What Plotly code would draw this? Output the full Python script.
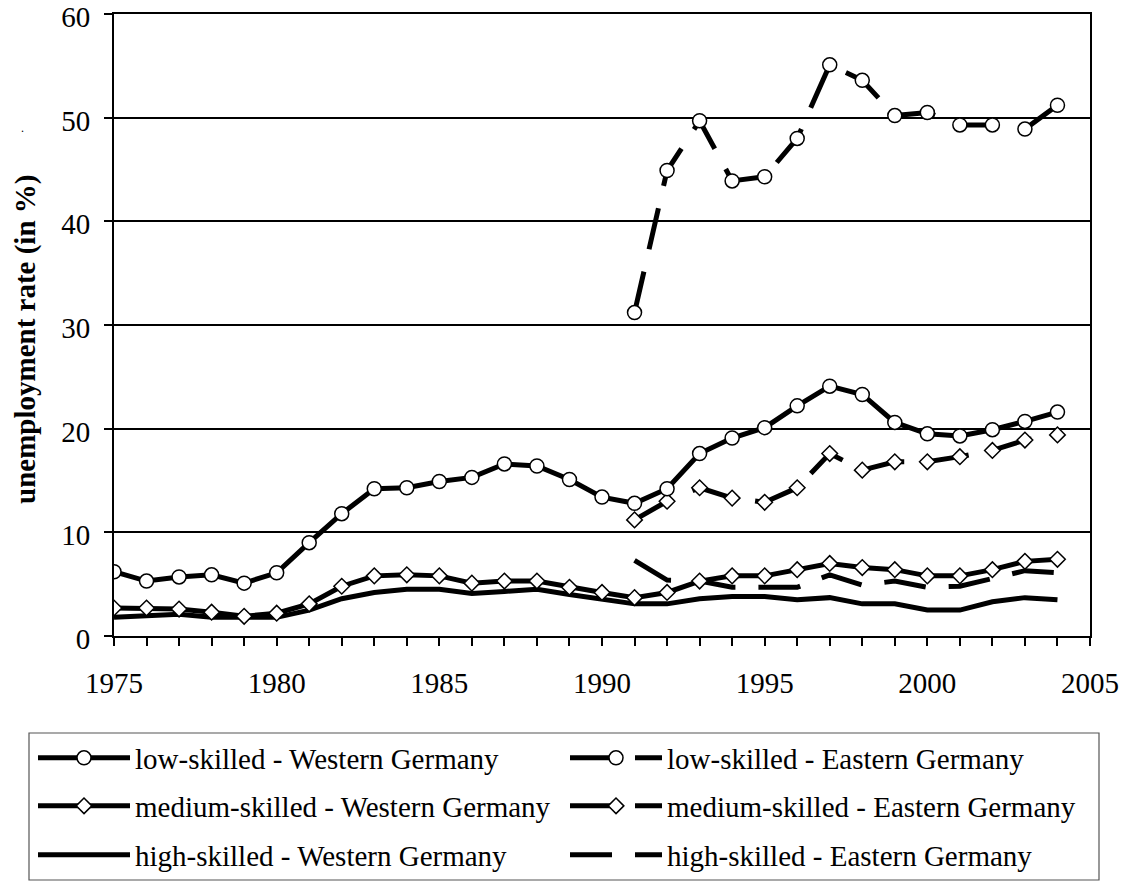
import plotly.graph_objects as go

years_w = list(range(1975, 2005))
years_e = list(range(1991, 2005))

low_w = [6.2, 5.3, 5.7, 5.9, 5.1, 6.1, 9.0, 11.8, 14.2, 14.3, 14.9, 15.3, 16.6, 16.4, 15.1,
         13.4, 12.8, 14.2, 17.6, 19.1, 20.1, 22.2, 24.1, 23.3, 20.6, 19.5, 19.3, 19.9, 20.7, 21.6]
med_w = [2.7, 2.7, 2.6, 2.3, 1.9, 2.2, 3.1, 4.8, 5.8, 5.9, 5.8, 5.1, 5.3, 5.3, 4.7,
         4.2, 3.7, 4.2, 5.3, 5.8, 5.8, 6.4, 7.0, 6.6, 6.4, 5.8, 5.8, 6.4, 7.2, 7.4]
high_w = [1.8, 1.9, 2.1, 1.8, 1.8, 1.8, 2.5, 3.6, 4.2, 4.5, 4.5, 4.1, 4.3, 4.5, 4.0,
          3.5, 3.1, 3.1, 3.6, 3.8, 3.8, 3.5, 3.7, 3.1, 3.1, 2.5, 2.5, 3.3, 3.7, 3.5]

low_e = [31.2, 44.9, 49.7, 43.9, 44.3, 48.0, 55.1, 53.6, 50.2, 50.5, 49.3, 49.3, 48.9, 51.2]
med_e = [11.2, 13.0, 14.3, 13.3, 12.9, 14.3, 17.6, 16.0, 16.8, 16.8, 17.3, 17.9, 18.9, 19.4]
high_e = [7.3, 5.4, 5.3, 4.7, 4.7, 4.7, 5.9, 4.9, 5.3, 4.7, 4.8, 5.6, 6.3, 6.1]

names = ["low-skilled - Western Germany", "low-skilled - Eastern Germany",
         "medium-skilled - Western Germany", "medium-skilled - Eastern Germany",
         "high-skilled - Western Germany", "high-skilled - Eastern Germany"]

tick_years = list(range(1975, 2006))
tick_text = [str(y) if y % 5 == 0 else "" for y in tick_years]

FONT = "Liberation Serif"
DASH = "42px,23px"
LW = 5

fig = go.Figure()

def add(x, y, name, legend, dash, symbol):
    mk = dict(symbol=symbol, size=14 if symbol == "circle" else 12, color="white",
              line=dict(color="black", width=1.5)) if symbol else None
    fig.add_trace(go.Scatter(
        x=x, y=y, name=name, legend=legend,
        mode="lines+markers" if symbol else "lines",
        line=dict(color="black", width=LW, dash=dash),
        marker=mk,
    ))

add(years_w, high_w, names[4], "legend3", "solid", None)
add(years_e, high_e, names[5], "legend3", DASH, None)
add(years_w, med_w, names[2], "legend2", "solid", "diamond")
add(years_e, med_e, names[3], "legend2", DASH, "diamond")
add(years_w, low_w, names[0], "legend", "solid", "circle")
add(years_e, low_e, names[1], "legend", DASH, "circle")

OFF = 8  # page body margin
L, R, T, B = 114 - OFF, 1090 - OFF, 14 - OFF, 636 - OFF
W, H = 1137 - OFF, 882 - OFF
pw, ph = R - L, B - T

def px(xp):
    return (xp - OFF - L) / pw

def py(yp):
    return (B - (yp - OFF)) / ph

leg_common = dict(orientation="h", font=dict(family=FONT, size=29, color="black"),
                  bgcolor="rgba(0,0,0,0)", borderwidth=0, itemwidth=92,
                  entrywidth=425, entrywidthmode="pixels", xanchor="left",
                  yanchor="middle", traceorder="normal", itemclick=False)

fig.update_layout(
    template="none",
    width=W, height=H,
    margin=dict(l=L, r=W - R, t=T, b=H - B, pad=0, autoexpand=False),
    paper_bgcolor="white", plot_bgcolor="white",
    font=dict(family=FONT, size=29, color="black"),
    showlegend=True,
    legend=dict(x=px(33), y=py(758), **leg_common),
    legend2=dict(x=px(33), y=py(806), **leg_common),
    legend3=dict(x=px(33), y=py(855), **leg_common),
    xaxis=dict(range=[1975, 2005], tickmode="array", tickvals=tick_years, ticktext=tick_text,
               ticks="outside", ticklen=8, tickwidth=1.5, tickcolor="black",
               showline=True, linecolor="black", linewidth=2, mirror=True,
               showgrid=False, zeroline=False, ticklabelstandoff=12, automargin=False,
               ticklabeloverflow="allow",
               tickfont=dict(family=FONT, size=29, color="black")),
    yaxis=dict(range=[0, 60], tickmode="array", tickvals=[0, 10, 20, 30, 40, 50, 60],
               ticks="outside", ticklen=8, tickwidth=1.5, tickcolor="black",
               showline=True, linecolor="black", linewidth=2, mirror=True,
               showgrid=True, gridcolor="black", gridwidth=1.5, zeroline=False,
               ticklabelstandoff=8, ticklabelshift=3, automargin=False,
               ticklabeloverflow="allow",
               tickfont=dict(family=FONT, size=29, color="black")),
    shapes=[dict(type="rect", xref="paper", yref="paper",
                 x0=px(29), x1=px(1099), y0=py(880), y1=py(733),
                 line=dict(color="#555555", width=1.2), fillcolor="rgba(0,0,0,0)",
                 layer="above")],
    annotations=[
        dict(text="<b>unemployment rate (in %)</b>", textangle=-90, xref="paper", yref="paper",
             x=px(25), y=py(340), xanchor="center", yanchor="middle", showarrow=False,
             font=dict(family=FONT, size=29, color="black")),
        dict(text=".", xref="paper", yref="paper", x=px(22), y=py(128),
             xanchor="center", yanchor="middle", showarrow=False,
             font=dict(family=FONT, size=12, color="black")),
    ],
)

fig.write_html("out.html")
